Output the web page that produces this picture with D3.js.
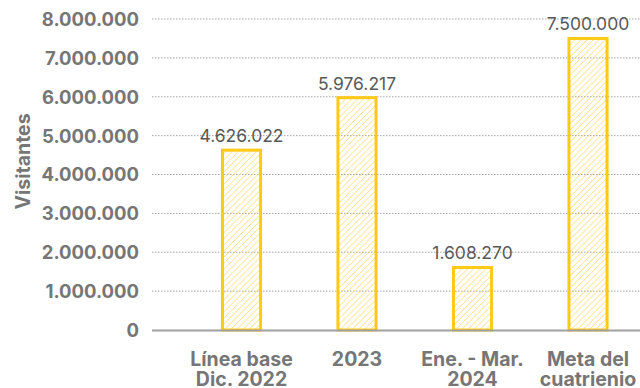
<!DOCTYPE html>
<html><head><meta charset="utf-8">
<script src="https://cdn.jsdelivr.net/npm/d3@7"></script>
<style>html,body{margin:0;padding:0;background:#fff;}svg{display:block;}</style>
</head><body>
<script>
const categories = [["Línea base","Dic. 2022"],["2023"],["Ene. - Mar.","2024"],["Meta del","cuatrienio"]];
const values = [4626022, 5976217, 1608270, 7500000];
const valueLabels = ["4.626.022","5.976.217","1.608.270","7.500.000"];
const tickValues = [0,1000000,2000000,3000000,4000000,5000000,6000000,7000000,8000000];
const tickLabels = ["0","1.000.000","2.000.000","3.000.000","4.000.000","5.000.000","6.000.000","7.000.000","8.000.000"];
const yTitle = "Visitantes";

const W = 640, H = 388;
const svg = d3.select("body").append("svg").attr("width", W).attr("height", H);
const font = "Inter, Lato, sans-serif";

const defs = svg.append("defs");
const pat = defs.append("pattern").attr("id","hatch").attr("patternUnits","userSpaceOnUse")
  .attr("width",4.3).attr("height",4.3).attr("patternTransform","rotate(45)");
pat.append("line").attr("x1",0).attr("y1",0).attr("x2",0).attr("y2",4.3)
  .attr("stroke","#FFD23F").attr("stroke-width",1);

const y = d3.scaleLinear().domain([0, 8000000]).range([330, 19]);
const x = d3.scaleBand().domain(d3.range(categories.length)).range([183.75, 645.75]).paddingInner(0.67).paddingOuter(0.335);

// gridlines
svg.append("g").selectAll("line").data(tickValues.filter(d => d > 0)).join("line")
  .attr("x1", 152).attr("x2", W).attr("y1", d => y(d)).attr("y2", d => y(d))
  .attr("stroke", "#a6a6a6").attr("stroke-width", 1).attr("stroke-dasharray", "1.5,1.5");

// y axis tick labels
const yAxis = d3.axisLeft(y).tickValues(tickValues).tickSize(0).tickPadding(0)
  .tickFormat((d, i) => tickLabels[i]);
const ga = svg.append("g").attr("transform", "translate(139,0)").call(yAxis);
ga.select(".domain").remove();
ga.selectAll("text").attr("font-family", font).attr("font-weight", "bold")
  .attr("font-size", 18.5).attr("fill", "#767676").attr("dy", "0.35em");

// bars
svg.append("g").selectAll("rect").data(values).join("rect")
  .attr("x", (d, i) => x(i)).attr("width", x.bandwidth())
  .attr("y", d => y(d)).attr("height", d => y(0) - y(d))
  .attr("fill", "url(#hatch)").attr("stroke", "#FFC914").attr("stroke-width", 3);

// zero line
svg.append("line").attr("x1", 152).attr("x2", W).attr("y1", y(0) + 0.5).attr("y2", y(0) + 0.5)
  .attr("stroke", "#a0a0a0").attr("stroke-width", 2);

// value labels
svg.append("g").selectAll("text").data(values).join("text")
  .attr("x", (d, i) => x(i) + x.bandwidth() / 2).attr("y", d => y(d) - 8)
  .attr("text-anchor", "middle").attr("font-family", font).attr("font-size", 17.5)
  .attr("fill", "#595959").text((d, i) => valueLabels[i]);

// category labels
const cg = svg.append("g").selectAll("text").data(categories).join("text")
  .attr("text-anchor", "middle").attr("font-family", font).attr("font-weight", "bold")
  .attr("font-size", 19.5).attr("fill", "#767676");
cg.each(function(lines, i) {
  const t = d3.select(this);
  lines.forEach((ln, j) => {
    t.append("tspan").attr("x", x(i) + x.bandwidth() / 2).attr("y", 366 + j * 20).text(ln);
  });
});

// y title
svg.append("text").attr("transform", "translate(30,161.5) rotate(-90)")
  .attr("text-anchor", "middle").attr("font-family", font).attr("font-weight", "bold")
  .attr("font-size", 19.5).attr("fill", "#767676").text(yTitle);
</script>
</body></html>
